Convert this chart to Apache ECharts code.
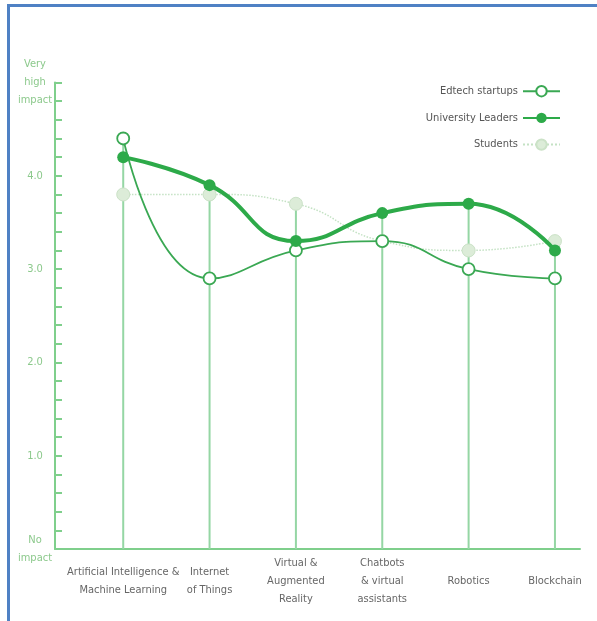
<!DOCTYPE html>
<html>
<head>
<meta charset="utf-8">
<script src="https://cdn.jsdelivr.net/npm/echarts@6/dist/echarts.min.js"></script>
<style>
  html, body { margin: 0; padding: 0; background: #fff; }
  #chart { width: 597px; height: 621px; }
</style>
</head>
<body>
<div id="chart"></div>
<script>
const categories = [
  'Artificial Intelligence &\nMachine Learning',
  'Internet\nof Things',
  'Virtual &\nAugmented\nReality',
  'Chatbots\n& virtual\nassistants',
  'Robotics',
  'Blockchain'
];
const edtechStartups = [4.4, 2.9, 3.2, 3.3, 3.0, 2.9];
const universityLeaders = [4.2, 3.9, 3.3, 3.6, 3.7, 3.2];
const students = [3.8, 3.8, 3.7, 3.3, 3.2, 3.3];
const yTickLabels = ['No\nimpact', '1.0', '2.0', '3.0', '4.0', 'Very\nhigh\nimpact'];

const FONT = "'Liberation Sans Narrow', 'DejaVu Sans Condensed', Lato, sans-serif";

const toPairs = arr => arr.map((v, i) => [i, v]);
const dropData = categories.map((c, i) =>
  [i, Math.max(edtechStartups[i], universityLeaders[i], students[i])]);

const chart = echarts.init(document.getElementById('chart'), null, { renderer: 'canvas' });

chart.setOption({
  animation: false,
  backgroundColor: '#ffffff',
  graphic: [
    { type: 'rect', shape: { x: 7, y: 4, width: 590, height: 3 }, style: { fill: '#4f81c4' }, z: 100 },
    { type: 'rect', shape: { x: 7, y: 4, width: 3, height: 617 }, style: { fill: '#4f81c4' }, z: 100 }
  ],
  grid: { left: 55, right: 17, top: 82.5, bottom: 72 },
  legend: {
    orient: 'vertical',
    right: 31,
    top: 80,
    align: 'right',
    itemWidth: 37,
    itemHeight: 13,
    itemGap: 15,
    data: ['Edtech startups', 'University Leaders', 'Students'],
    textStyle: { color: '#555', fontSize: 11, fontFamily: FONT }
  },
  xAxis: {
    type: 'value',
    min: -0.79,
    max: 5.29,
    splitLine: { show: false },
    axisTick: { show: false },
    axisLine: { onZero: false, lineStyle: { color: '#7fcf8c', width: 2 } },
    axisLabel: {
      customValues: [0, 1, 2, 3, 4, 5],
      formatter: v => categories[Math.round(v)] || '',
      verticalAlign: 'middle',
      margin: 32,
      lineHeight: 18,
      color: '#666',
      fontSize: 11,
      fontFamily: FONT
    }
  },
  yAxis: {
    type: 'value',
    min: 0,
    max: 5,
    interval: 1,
    splitLine: { show: false },
    axisLine: { show: true, onZero: false, lineStyle: { color: '#7fcf8c', width: 2 } },
    axisTick: { show: true, inside: true, length: 7, lineStyle: { color: '#7fcf8c', width: 2 } },
    minorTick: { show: true, splitNumber: 5, length: 7, lineStyle: { color: '#7fcf8c', width: 2 } },
    axisLabel: {
      formatter: v => yTickLabels[Math.round(v)],
      align: 'center',
      margin: 20,
      lineHeight: 18,
      color: '#8cc98c',
      fontSize: 11,
      fontFamily: FONT
    }
  },
  series: [
    {
      name: 'drop',
      type: 'custom',
      data: dropData,
      z: 1,
      silent: true,
      renderItem: function (params, api) {
        const top = api.coord([api.value(0), api.value(1)]);
        const bottom = api.coord([api.value(0), 0]);
        return {
          type: 'line',
          shape: { x1: bottom[0], y1: bottom[1], x2: top[0], y2: top[1] },
          style: { stroke: '#95d6a4', lineWidth: 2 }
        };
      }
    },
    {
      name: 'Students',
      type: 'line',
      data: toPairs(students),
      smooth: true,
      z: 2,
      symbol: 'circle',
      symbolSize: 13,
      lineStyle: { color: '#c4e2c4', width: 1.5, type: 'dotted' },
      itemStyle: { color: '#dcecd8', borderColor: '#cbe2c7', borderWidth: 1 }
    },
    {
      name: 'Edtech startups',
      type: 'line',
      data: toPairs(edtechStartups),
      smooth: true,
      z: 3,
      symbol: 'circle',
      symbolSize: 12,
      lineStyle: { color: '#3aa853', width: 1.8 },
      itemStyle: { color: '#ffffff', borderColor: '#3aa853', borderWidth: 1.8 }
    },
    {
      name: 'University Leaders',
      type: 'line',
      data: toPairs(universityLeaders),
      smooth: true,
      z: 4,
      symbol: 'circle',
      symbolSize: 12,
      lineStyle: { color: '#2daa49', width: 4 },
      itemStyle: { color: '#2daa49', borderColor: '#2daa49', borderWidth: 0 }
    }
  ]
});
</script>
</body>
</html>
